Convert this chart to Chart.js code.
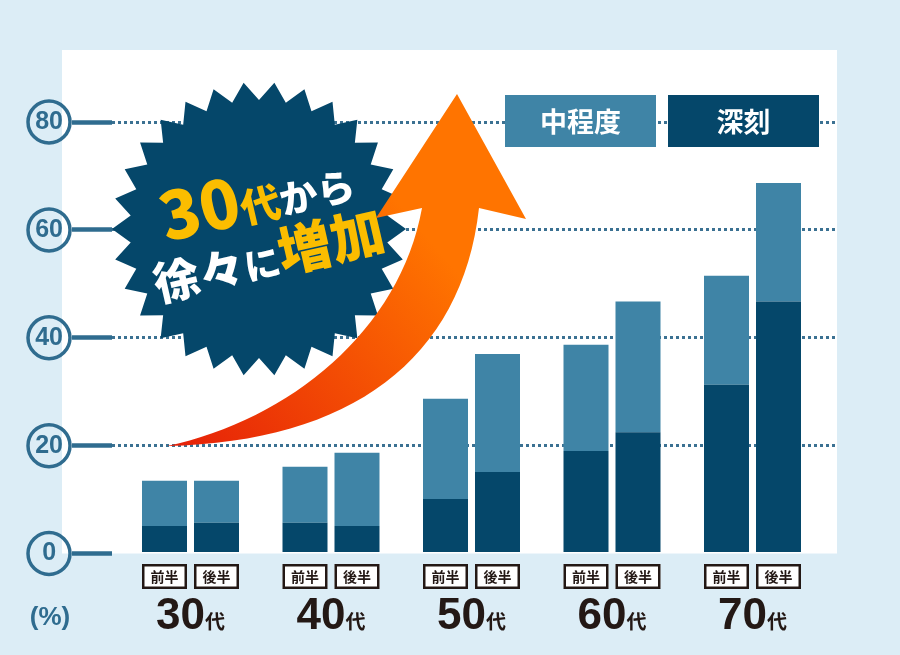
<!DOCTYPE html>
<html lang="ja">
<head>
<meta charset="utf-8">
<title>年代別の割合</title>
<script src="https://cdn.jsdelivr.net/npm/chart.js@4.4.1/dist/chart.umd.min.js"></script>
<style>
  html, body { margin: 0; padding: 0; background: #dcedf6; }
  #wrap { width: 900px; height: 655px; }
</style>
</head>
<body>
<div id="wrap"><canvas id="chart" width="900" height="655"></canvas></div>
<script>
// 年代 / 前半・後半
const categories = ['30代', '40代', '50代', '60代', '70代'];
const ageNumbers = ['30', '40', '50', '60', '70'];
const halves = ['前半', '後半'];

// 値 (%)
const firstSevere = [5.1, 5.7, 10.1, 19.0, 31.3];
const firstModerate = [8.4, 10.4, 18.6, 19.7, 20.2];
const secondSevere = [5.7, 5.1, 15.1, 22.5, 46.7];
const secondModerate = [7.8, 13.6, 21.9, 24.2, 22.0];

const yTicks = [0, 20, 40, 60, 80];
const legendLabels = ['中程度', '深刻'];
const unitLabel = '(%)';

const MID = '#3f84a6';
const DEEP = '#05476a';
const AXIS = '#2f6c8f';
const INK = '#231815';
const YELLOW = '#fbbd00';
const JP = '"Noto Sans CJK JP", "Noto Sans", sans-serif';

function toPoints(arr) {
    return arr.map((v, i) => ({ x: i, y: v }));
}

function drawBurst(ctx) {
    const cx = 259, cy = 229, rOut = 147, rIn = 129, n = 30;
    ctx.save();
    ctx.fillStyle = DEEP;
    ctx.beginPath();
    for (let i = 0; i < n * 2; i++) {
        const a = -Math.PI / 2 + (Math.PI / n) * i;
        const r = i % 2 ? rOut : rIn;
        const px = cx + r * Math.cos(a), py = cy + r * Math.sin(a);
        if (i === 0) ctx.moveTo(px, py); else ctx.lineTo(px, py);
    }
    ctx.closePath();
    ctx.fill();

    // キャッチコピー
    const rot = -13 * Math.PI / 180;
    ctx.textBaseline = 'alphabetic';
    ctx.textAlign = 'left';
    const line = (x0, y0, parts) => {
        ctx.save();
        ctx.translate(x0, y0);
        ctx.rotate(rot);
        let x = 0;
        parts.forEach(([t, size, color]) => {
            ctx.font = `900 ${size}px ${JP}`;
            ctx.fillStyle = color;
            ctx.fillText(t, x, 0);
            x += ctx.measureText(t).width;
        });
        ctx.restore();
    };
    line(166, 242, [['30', 66, YELLOW], ['代', 40, YELLOW], ['から', 38, '#fff']]);
    line(158, 302, [['徐々', 46, '#fff'], ['に', 36, '#fff'], ['増加', 54, YELLOW]]);
    ctx.restore();
}

function drawArrow(ctx) {
    ctx.save();
    const g = ctx.createLinearGradient(180, 450, 430, 240);
    g.addColorStop(0, '#e62108');
    g.addColorStop(1, '#ff7400');
    ctx.fillStyle = g;
    ctx.beginPath();
    ctx.moveTo(167, 446);
    ctx.bezierCurveTo(350, 442, 462, 360, 479, 208);
    ctx.lineTo(526, 219);
    ctx.lineTo(457, 94);
    ctx.lineTo(376, 218);
    ctx.lineTo(422, 208);
    ctx.bezierCurveTo(400, 330, 290, 420, 167, 446);
    ctx.closePath();
    ctx.fill();
    ctx.restore();
}

function drawLegend(ctx) {
    const colors = [MID, DEEP];
    ctx.save();
    ctx.textAlign = 'center';
    ctx.textBaseline = 'middle';
    ctx.font = `bold 27px ${JP}`;
    legendLabels.forEach((t, i) => {
        const x = 505 + i * 163;
        ctx.fillStyle = colors[i];
        ctx.fillRect(x, 95, 151, 52);
        ctx.fillStyle = '#fff';
        ctx.fillText(t, x + 75.5, 122);
    });
    ctx.restore();
}

const decor = {
    id: 'decor',
    beforeDraw(chart) {
        const { ctx, chartArea } = chart;
        const y0 = chart.scales.y.getPixelForValue(0);
        ctx.save();
        ctx.fillStyle = '#dcedf6';
        ctx.fillRect(0, 0, chart.width, chart.height);
        ctx.fillStyle = '#fff';
        ctx.fillRect(62, 50, chartArea.right - 62, y0 - 50);
        ctx.restore();
    },
    afterDatasetsDraw(chart) {
        const ctx = chart.ctx;
        drawBurst(ctx);
        drawArrow(ctx);
        drawLegend(ctx);
    },
    afterDraw(chart) {
        const ctx = chart.ctx;
        const yScale = chart.scales.y;
        const xScale = chart.scales.x;
        ctx.save();

        // 目盛りの丸
        ctx.strokeStyle = AXIS;
        ctx.lineWidth = 3.5;
        yTicks.forEach(v => {
            ctx.beginPath();
            ctx.arc(49, yScale.getPixelForValue(v), 21, 0, Math.PI * 2);
            ctx.stroke();
        });

        // 前半・後半ラベル
        const metas = [chart.getDatasetMeta(0), chart.getDatasetMeta(2)];
        categories.forEach((c, i) => {
            metas.forEach((meta, k) => {
                const bar = meta.data[i];
                const w = bar.width;
                const left = bar.x - w / 2;
                ctx.fillStyle = '#fff';
                ctx.fillRect(left, 564, w, 24);
                ctx.strokeStyle = INK;
                ctx.lineWidth = 2.5;
                ctx.strokeRect(left + 1.25, 565.25, w - 2.5, 22.5);
                ctx.fillStyle = INK;
                ctx.font = `bold 14px ${JP}`;
                ctx.textAlign = 'center';
                ctx.textBaseline = 'middle';
                ctx.fillText(halves[k], bar.x, 577);
            });

            // 年代ラベル
            const cx = xScale.getPixelForValue(i);
            ctx.textBaseline = 'alphabetic';
            ctx.textAlign = 'left';
            ctx.font = 'bold 44px "Liberation Sans", Arial, sans-serif';
            const wNum = ctx.measureText(ageNumbers[i]).width;
            ctx.font = `bold 20px ${JP}`;
            const wDai = ctx.measureText('代').width;
            const start = cx - (wNum + wDai) / 2;
            ctx.fillStyle = INK;
            ctx.font = 'bold 44px "Liberation Sans", Arial, sans-serif';
            ctx.fillText(ageNumbers[i], start, 629);
            ctx.font = `bold 20px ${JP}`;
            ctx.fillText(c.slice(-1), start + wNum, 629);
        });

        // 単位
        ctx.fillStyle = AXIS;
        ctx.font = 'bold 26px "Liberation Sans", Arial, sans-serif';
        ctx.textAlign = 'center';
        ctx.fillText(unitLabel, 50, 625);
        ctx.restore();
    }
};

const ctx = document.getElementById('chart').getContext('2d');
new Chart(ctx, {
    type: 'bar',
    data: {
        datasets: [
            { label: '前半 深刻', data: toPoints(firstSevere), backgroundColor: DEEP, stack: 'first' },
            { label: '前半 中程度', data: toPoints(firstModerate), backgroundColor: MID, stack: 'first' },
            { label: '後半 深刻', data: toPoints(secondSevere), backgroundColor: DEEP, stack: 'second' },
            { label: '後半 中程度', data: toPoints(secondModerate), backgroundColor: MID, stack: 'second' }
        ]
    },
    options: {
        responsive: false,
        animation: false,
        layout: { padding: { top: 122, right: 63, bottom: 101.5, left: 0 } },
        datasets: {
            bar: { categoryPercentage: 0.7402, barPercentage: 0.8654, borderWidth: 0 }
        },
        plugins: {
            legend: { display: false },
            tooltip: { enabled: false }
        },
        scales: {
            x: {
                type: 'linear',
                display: false,
                offset: false,
                stacked: true,
                min: -0.5587,
                max: 4.6014,
                afterBuildTicks(scale) {
                    scale.ticks = categories.map((c, i) => ({ value: i }));
                }
            },
            y: {
                stacked: true,
                min: 0,
                max: 80,
                afterFit(scale) { scale.width = 112; },
                afterBuildTicks(scale) {
                    scale.ticks = yTicks.map(v => ({ value: v }));
                },
                border: { display: false, dash: [3, 3] },
                grid: {
                    color: c => (c.tick && c.tick.value === 0 ? 'rgba(0,0,0,0)' : '#3b7192'),
                    lineWidth: 3,
                    tickLength: 40,
                    tickWidth: 4.5,
                    tickColor: AXIS
                },
                ticks: {
                    crossAlign: 'center',
                    padding: 9,
                    color: AXIS,
                    font: { family: '"Liberation Sans", Arial, sans-serif', size: 25, weight: 'bold' }
                }
            }
        }
    },
    plugins: [decor]
});
</script>
</body>
</html>
